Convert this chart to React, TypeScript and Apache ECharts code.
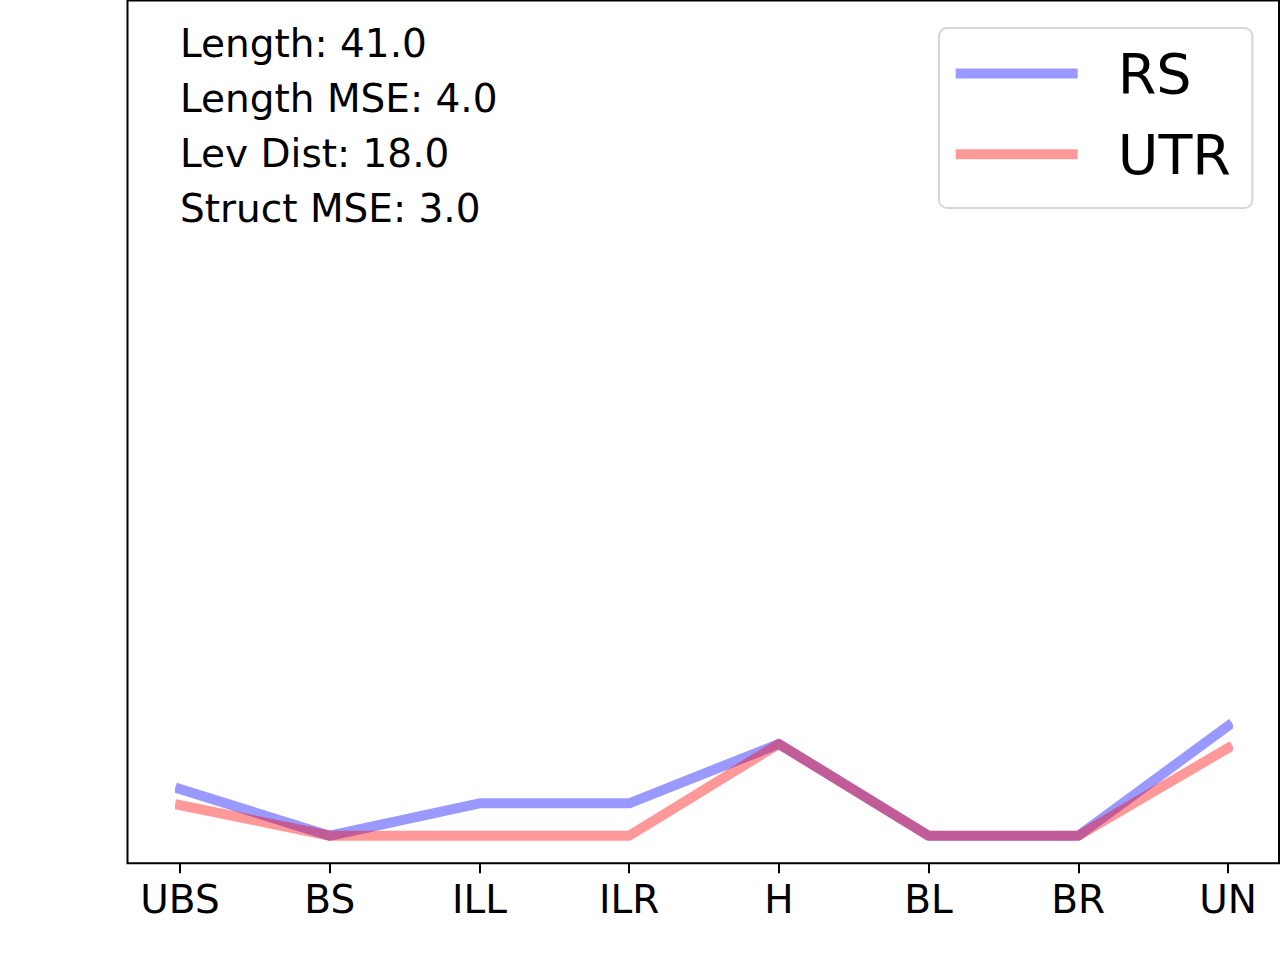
import * as echarts from "echarts";
import { useEffect, useRef } from "react";

const categories = ["UBS", "BS", "ILL", "ILR", "H", "BL", "BR", "UN"];
const rsValues = [3.05, 0, 2.12, 2.12, 6.0, 0, 0, 7.17];
const utrValues = [2.0, 0, 0, 0, 6.0, 0, 0, 5.73];
const statLines = ["Length: 41.0", "Length MSE: 4.0", "Lev Dist: 18.0", "Struct MSE: 3.0"];

const FONT = "DejaVu Sans";

export default function App() {
  const ref = useRef<HTMLDivElement | null>(null);

  useEffect(() => {
    if (!ref.current) {
      return;
    }
    const chart = echarts.init(ref.current, null, { renderer: "svg" });
    chart.setOption({
      animation: false,
      backgroundColor: "#ffffff",
      textStyle: { fontFamily: FONT },
      grid: { left: 180, right: 52, top: 0, bottom: 96.7 },
      legend: {
        orient: "vertical",
        left: 939,
        top: 28,
        padding: [15.4, 21.4, 23.8, 16.7],
        itemWidth: 122,
        itemHeight: 10,
        itemGap: 20.8,
        icon: "rect",
        backgroundColor: "#ffffff",
        borderColor: "#d6d6d6",
        borderWidth: 2,
        borderRadius: 8,
        textStyle: {
          fontFamily: FONT,
          fontSize: 55.6,
          lineHeight: 60,
          color: "#000000",
          padding: [0, 0, 0, 35]
        },
        data: ["RS", "UTR"]
      },
      xAxis: {
        type: "category",
        data: categories,
        boundaryGap: false,
        axisLine: { show: false, onZero: false },
        axisTick: { show: true, length: 10, lineStyle: { color: "#000000", width: 2 } },
        axisLabel: {
          color: "#000000",
          fontFamily: FONT,
          fontSize: 39,
          margin: 36,
          verticalAlign: "middle",
          interval: 0
        },
        splitLine: { show: false }
      },
      yAxis: {
        type: "value",
        min: -1.8,
        max: 54.6,
        show: false,
        splitLine: { show: false }
      },
      graphic: [
        {
          type: "rect",
          silent: true,
          z: 10,
          shape: { x: 127.5, y: 0.5, width: 1151.5, height: 862.8 },
          style: { fill: "none", stroke: "#000000", lineWidth: 2 }
        },
        ...statLines.map((text, index) => ({
          type: "text",
          silent: true,
          x: 180,
          y: 43 + index * 55.3,
          style: {
            text,
            fill: "#000000",
            font: `39px "${FONT}"`,
            verticalAlign: "middle",
            align: "left"
          }
        }))
      ],
      series: [
        lineSeries("RS", rsValues, "rgba(0,0,255,0.4)"),
        lineSeries("UTR", utrValues, "rgba(255,0,0,0.4)")
      ]
    });

    return () => {
      chart.dispose();
    };
  }, []);

  return (
    <div
      ref={ref}
      style={{ position: "fixed", left: 0, top: 0, width: 1280, height: 960, background: "#ffffff" }}
    />
  );
}

function lineSeries(name: string, data: number[], color: string) {
  return {
    name,
    type: "line",
    data,
    color,
    symbol: "none",
    showSymbol: false,
    lineStyle: { width: 10, color, cap: "square", join: "round" },
    emphasis: { disabled: true }
  };
}
